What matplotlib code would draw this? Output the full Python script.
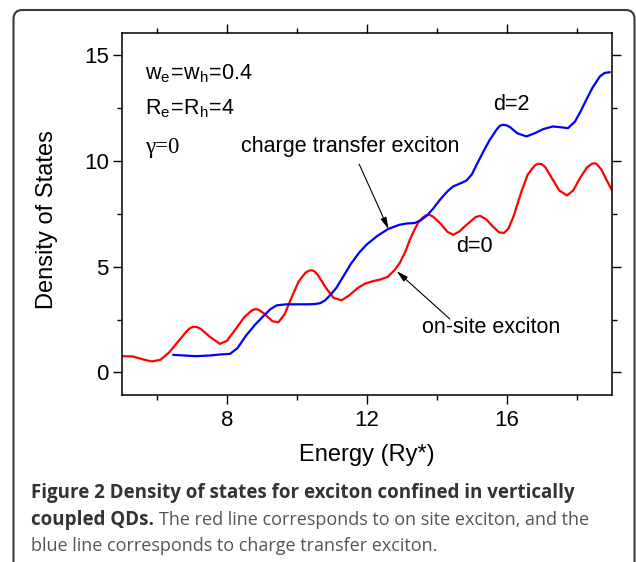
import matplotlib
matplotlib.use("Agg")
import matplotlib.pyplot as plt
from matplotlib.patches import FancyBboxPatch
from matplotlib.ticker import MultipleLocator

plt.rcParams['font.family'] = ['Liberation Sans', 'DejaVu Sans']
plt.rcParams['mathtext.fontset'] = 'custom'
plt.rcParams['mathtext.rm'] = 'Liberation Sans'
plt.rcParams['mathtext.it'] = 'Liberation Sans:italic'

# d=0, on-site exciton (red)
red_x = [5.0, 5.3, 5.6, 5.85, 6.1, 6.35, 6.6, 6.85, 6.95, 7.04, 7.15, 7.25, 7.5, 7.8,
         8.0, 8.25, 8.5, 8.7, 8.8, 8.9, 9.05, 9.3, 9.47, 9.65, 9.85, 10.05, 10.25,
         10.35, 10.42, 10.5, 10.6, 10.85, 11.05, 11.28, 11.5, 11.75, 11.95, 12.17,
         12.4, 12.6, 12.8, 12.94, 13.1, 13.23, 13.35, 13.47, 13.6, 13.7, 13.8, 13.9,
         14.09, 14.3, 14.47, 14.65, 14.8, 14.94, 15.1, 15.23, 15.4, 15.6, 15.78,
         15.92, 16.05, 16.2, 16.42, 16.6, 16.8, 16.9, 17.0, 17.1, 17.3, 17.5, 17.72,
         17.9, 18.1, 18.3, 18.45, 18.55, 18.7, 18.85, 19.0]
red_y = [0.77, 0.76, 0.62, 0.52, 0.6, 0.95, 1.45, 1.95, 2.1, 2.16, 2.14, 2.06, 1.7,
         1.35, 1.5, 2.05, 2.62, 2.92, 2.99, 2.97, 2.8, 2.42, 2.37, 2.75, 3.55, 4.3,
         4.72, 4.81, 4.83, 4.78, 4.6, 3.95, 3.52, 3.41, 3.65, 4.0, 4.2, 4.31, 4.4,
         4.52, 4.85, 5.17, 5.7, 6.27, 6.7, 7.09, 7.32, 7.43, 7.44, 7.35, 7.06, 6.65,
         6.5, 6.67, 6.9, 7.1, 7.33, 7.4, 7.25, 6.9, 6.62, 6.59, 6.8, 7.4, 8.55,
         9.35, 9.78, 9.86, 9.84, 9.7, 9.15, 8.6, 8.36, 8.6, 9.2, 9.7, 9.87, 9.87,
         9.6, 9.1, 8.63]

# d=2, charge transfer exciton (blue)
blue_x = [6.47, 6.8, 7.1, 7.5, 7.8, 8.09, 8.3, 8.55, 8.8, 9.04, 9.25, 9.42, 9.7,
          10.0, 10.3, 10.5, 10.66, 10.8, 10.95, 11.13, 11.35, 11.55, 11.8, 12.0,
          12.3, 12.61, 12.94, 13.15, 13.37, 13.55, 13.71, 13.9, 14.09, 14.3, 14.47,
          14.7, 14.85, 15.0, 15.15, 15.32, 15.5, 15.7, 15.8, 15.89, 16.0, 16.1,
          16.3, 16.56, 16.8, 17.05, 17.32, 17.55, 17.75, 17.95, 18.1, 18.28, 18.45,
          18.66, 18.8, 18.94]
blue_y = [0.83, 0.8, 0.77, 0.8, 0.85, 0.88, 1.15, 1.75, 2.25, 2.66, 3.0, 3.17, 3.22,
          3.22, 3.22, 3.23, 3.27, 3.4, 3.65, 4.0, 4.6, 5.15, 5.7, 6.05, 6.45, 6.78,
          6.98, 7.04, 7.06, 7.2, 7.4, 7.75, 8.16, 8.55, 8.79, 8.95, 9.07, 9.35, 9.85,
          10.4, 10.95, 11.45, 11.65, 11.7, 11.67, 11.58, 11.3, 11.15, 11.3, 11.5,
          11.62, 11.58, 11.54, 11.85, 12.3, 12.9, 13.45, 13.98, 14.15, 14.18]

x_ticks = [8, 12, 16]
y_ticks = [0, 5, 10, 15]

caption_bold1 = "Figure 2 Density of states for exciton confined in vertically"
caption_bold2 = "coupled QDs."
caption_reg2 = "The red line corresponds to on site exciton, and the"
caption_reg3 = "blue line corresponds to charge transfer exciton."

W, H = 636, 562
fig = plt.figure(figsize=(W / 100, H / 100), dpi=100)

# background frame (pixel coordinates)
bg = fig.add_axes([0, 0, 1, 1])
bg.set_xlim(0, W)
bg.set_ylim(H, 0)
bg.axis('off')
bg.add_patch(FancyBboxPatch((13.5, 10), 621, 620, boxstyle='round,pad=0,rounding_size=9',
                            fc='white', ec='#3a3a3a', lw=1.5))

ax = fig.add_axes([122 / W, 1 - 394.5 / H, (611.7 - 122) / W, (394.5 - 33.3) / H])
ax.plot(red_x, red_y, color='#ff0000', lw=1.6)
ax.plot(blue_x, blue_y, color='#0000ff', lw=1.6)

ax.set_xlim(5, 19)
ax.set_ylim(-1.04, 16.02)
ax.set_xticks(x_ticks)
ax.set_yticks(y_ticks)
ax.xaxis.set_minor_locator(MultipleLocator(2))
ax.yaxis.set_minor_locator(MultipleLocator(2.5))
for s in ax.spines.values():
    s.set_linewidth(1.1)
ax.tick_params(which='both', direction='out', top=True, right=True, labelsize=16,
               width=1.0)
ax.tick_params(which='major', length=6.5, pad=4)
ax.tick_params(which='minor', length=3.5)
ax.tick_params(axis='y', which='major', pad=3)
ax.tick_params(axis='x', which='major', pad=5)
ax.tick_params(axis='y', which='both', right=True)

fig.text(367 / W, 1 - 455 / H, "Energy (Ry*)", ha='center', va='center', fontsize=17)
fig.text(47 / W, 1 - 220 / H, "Density of States", ha='center', va='center',
         rotation=90, fontsize=17)

ax.text(5.66, 13.84, r'$\mathregular{w_e\!=\!w_h\!=\!0.4}$', fontsize=15.5, va='baseline')
ax.text(5.66, 12.19, r'$\mathregular{R_e\!=\!R_h\!=\!4}$', fontsize=15.5, va='baseline')
ax.text(5.66, 10.38, 'γ=0', family='Liberation Serif', fontsize=16.5, va='baseline')
ax.text(8.4, 10.41, 'charge transfer exciton', fontsize=15.5, va='baseline')
ax.text(15.6, 12.39, 'd=2', fontsize=15.5, va='baseline')
ax.text(14.54, 5.70, 'd=0', fontsize=15.5, va='baseline')
ax.text(13.57, 1.87, 'on-site exciton', fontsize=15.5, va='baseline')

arrow = dict(arrowstyle='-|>,head_length=0.7,head_width=0.18', color='black', lw=0.8,
             shrinkA=0, shrinkB=0)
ax.annotate('', xy=(12.62, 6.77), xytext=(11.78, 9.84), arrowprops=arrow)
ax.annotate('', xy=(12.85, 4.79), xytext=(14.37, 2.53), arrowprops=arrow)

cap_font = ['Open Sans', 'DejaVu Sans']
bold_size = 13.5
reg_size = 13.0
fig.text(31 / W, 1 - 493 / H, caption_bold1, family=cap_font, weight='bold',
         fontsize=bold_size, color='#333333', va='center')
qd = fig.text(31 / W, 1 - 520 / H, caption_bold2, family=cap_font, weight='bold',
              fontsize=bold_size, color='#333333', va='center')
fig.canvas.draw()
qd_end = qd.get_window_extent().x1
fig.text((qd_end + 5) / W, 1 - 520 / H, caption_reg2, family=cap_font,
         fontsize=reg_size, color='#555555', va='center')
fig.text(31 / W, 1 - 546 / H, caption_reg3, family=cap_font,
         fontsize=reg_size, color='#555555', va='center')

fig.savefig('out.png', dpi=100)
